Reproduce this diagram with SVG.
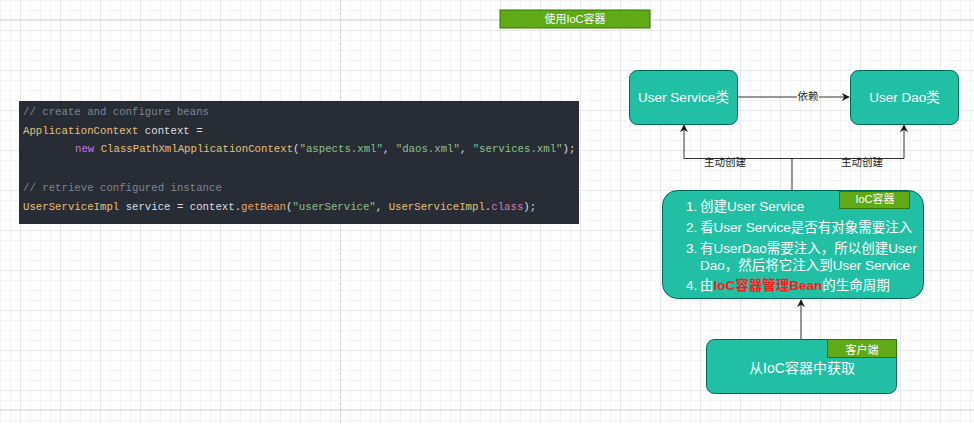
<svg xmlns="http://www.w3.org/2000/svg" width="974" height="441" viewBox="0 0 974 441">
  <style>
    .minor { stroke: #f3f3f3; stroke-width: 1; }
    .major { stroke: #e6e6e6; stroke-width: 1; }
    .page { stroke: #dedede; stroke-width: 1.5; }
    .node { fill: #21C0A5; stroke: #006658; stroke-width: 1; }
    .tag { fill: #60a917; stroke: #2D7600; stroke-width: 1; }
    .txt { font-family: "Liberation Sans", "Noto Sans CJK SC", sans-serif; fill: #ffffff; }
    .lbl { font-family: "Liberation Sans", "Noto Sans CJK SC", sans-serif; fill: #1a1a1a; font-size: 10.5px; }
    .code { font-family: "Liberation Mono", "DejaVu Sans Mono", monospace; font-size: 10.7px; }
    .cm { fill: #7d8592; }
    .ty { fill: #e5c07b; }
    .pl { fill: #dcdfe4; }
    .kw { fill: #c678dd; }
    .st { fill: #8dc18f; }
    .fn { fill: #e5a55f; }
    .cls { fill: #d07fa8; }
    .edge { fill: none; stroke: #333333; stroke-width: 1; }
  </style>
  <defs>
    <pattern id="gMinor" width="10" height="10" patternUnits="userSpaceOnUse">
      <path d="M0.5 0 V10 M0 0.5 H10" class="minor"/>
    </pattern>
    <pattern id="gMajor" x="20" y="30" width="40" height="40" patternUnits="userSpaceOnUse">
      <path d="M0.5 0 V40 M0 0.5 H40" class="major"/>
    </pattern>
    <marker id="arrow" viewBox="0 0 10 10" refX="9" refY="5" markerWidth="8" markerHeight="8" orient="auto" markerUnits="userSpaceOnUse">
      <path d="M0 0 L10 5 L0 10 L3 5 Z" fill="#1a1a1a"/>
    </marker>
  </defs>

  <!-- background grid -->
  <rect x="0" y="0" width="974" height="441" fill="#ffffff"/>
  <rect x="0" y="0" width="974" height="423" fill="url(#gMinor)"/>
  <rect x="0" y="0" width="974" height="423" fill="url(#gMajor)"/>
  <line x1="0" y1="20" x2="974" y2="20" class="page"/>
  <line x1="0" y1="410" x2="974" y2="410" class="page"/>
  <line x1="340.5" y1="0" x2="340.5" y2="423" stroke="#cfcfcf" stroke-width="1" stroke-dasharray="3 3"/>

  <!-- title -->
  <g id="title">
    <rect x="500" y="10" width="150" height="18" class="tag"/>
    <text x="575" y="22.5" text-anchor="middle" class="txt" font-size="11">使用IoC容器</text>
  </g>

  <!-- code block -->
  <g id="code">
    <rect x="19" y="101" width="560" height="123" fill="#282c34"/>
    <text x="23" y="114.5" class="code cm" xml:space="preserve">// create and configure beans</text>
    <text x="23" y="133.5" class="code" xml:space="preserve"><tspan class="ty">ApplicationContext</tspan><tspan class="pl"> context =</tspan></text>
    <text x="75" y="152" class="code" xml:space="preserve"><tspan class="kw">new</tspan><tspan class="pl"> </tspan><tspan class="ty">ClassPathXmlApplicationContext</tspan><tspan class="pl">(</tspan><tspan class="st">"aspects.xml"</tspan><tspan class="pl">, </tspan><tspan class="st">"daos.xml"</tspan><tspan class="pl">, </tspan><tspan class="st">"services.xml"</tspan><tspan class="pl">);</tspan></text>
    <text x="23" y="190.5" class="code cm" xml:space="preserve">// retrieve configured instance</text>
    <text x="23" y="209.5" class="code" xml:space="preserve"><tspan class="ty">UserServiceImpl</tspan><tspan class="pl"> service = context.</tspan><tspan class="fn">getBean</tspan><tspan class="pl">(</tspan><tspan class="st">"userService"</tspan><tspan class="pl">, </tspan><tspan class="ty">UserServiceImpl</tspan><tspan class="pl">.</tspan><tspan class="cls">class</tspan><tspan class="pl">);</tspan></text>
  </g>

  <!-- connectors -->
  <g id="connectors">
    <path d="M738 97 H849" class="edge" marker-end="url(#arrow)"/>
    <rect x="797" y="89" width="22" height="14" fill="#ffffff"/>
    <text x="808" y="100" text-anchor="middle" class="lbl">依赖</text>

    <path d="M792 190 V158.5 H684 V125" class="edge" marker-end="url(#arrow)"/>
    <path d="M792 158.5 H904 V125" class="edge" marker-end="url(#arrow)"/>
    <text x="725" y="165.5" text-anchor="middle" class="lbl">主动创建</text>
    <text x="862" y="165.5" text-anchor="middle" class="lbl">主动创建</text>

    <path d="M801 339 V300" class="edge" marker-end="url(#arrow)"/>
  </g>

  <!-- nodes -->
  <g id="userService">
    <rect x="629.5" y="70.5" width="108" height="54" rx="8" ry="8" class="node"/>
    <text x="683.5" y="102" text-anchor="middle" class="txt" font-size="13.5">User Service类</text>
  </g>

  <g id="userDao">
    <rect x="850.5" y="70.5" width="108" height="54" rx="8" ry="8" class="node"/>
    <text x="904.5" y="102" text-anchor="middle" class="txt" font-size="13.5">User Dao类</text>
  </g>

  <g id="iocContainer">
    <rect x="662.5" y="190.5" width="261" height="108" rx="15" ry="15" class="node"/>
    <rect x="839.5" y="191.5" width="70" height="17" class="tag"/>
    <text x="875" y="203.3" text-anchor="middle" class="txt" font-size="11">IoC容器</text>
    <g class="txt" font-size="13.5">
      <text x="686" y="210.5">1.</text>
      <text x="700" y="210.5">创建User Service</text>
      <text x="686" y="231.5">2.</text>
      <text x="700" y="231.5">看User Service是否有对象需要注入</text>
      <text x="686" y="253">3.</text>
      <text x="700" y="253">有UserDao需要注入，所以创建User</text>
      <text x="700" y="270">Dao，然后将它注入到User Service</text>
      <text x="686" y="290">4.</text>
      <text x="700" y="290">由<tspan fill="#ff1a1a" font-weight="bold">IoC容器管理Bean</tspan>的生命周期</text>
    </g>
  </g>

  <g id="client">
    <rect x="706.5" y="339.5" width="190" height="54" rx="8" ry="8" class="node"/>
    <rect x="827.5" y="339.5" width="69" height="18" class="tag"/>
    <text x="862" y="353.8" text-anchor="middle" class="txt" font-size="11">客户端</text>
    <text x="802" y="373" text-anchor="middle" class="txt" font-size="14">从IoC容器中获取</text>
  </g>
</svg>
